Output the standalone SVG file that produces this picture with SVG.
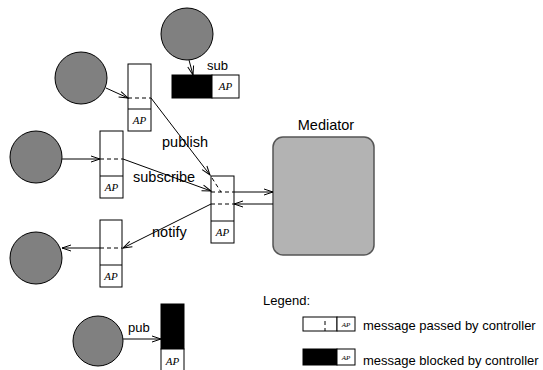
<svg xmlns="http://www.w3.org/2000/svg" width="543" height="370" viewBox="0 0 543 370">
<style>
.node{fill:#808080;stroke:#000;stroke-width:1}
.box{fill:#fff;stroke:#000;stroke-width:1}
.blk{fill:#000;stroke:#000;stroke-width:1}
.ln{stroke:#000;stroke-width:1;fill:none}
.dash{stroke:#000;stroke-width:1;fill:none;stroke-dasharray:4,3}
.lbl{font-family:"Liberation Sans",Arial,sans-serif;font-size:14.5px;fill:#000}
.sm{font-family:"Liberation Sans",Arial,sans-serif;font-size:13px;fill:#000}
.ap{font-family:"Liberation Serif","DejaVu Serif",serif;font-style:italic;font-size:11px;fill:#000;text-anchor:middle}
.aps{font-family:"Liberation Serif","DejaVu Serif",serif;font-style:italic;font-size:7px;fill:#000;text-anchor:middle}
</style>
<defs>
<marker id="arr" markerUnits="userSpaceOnUse" markerWidth="12" markerHeight="8" refX="10" refY="4" orient="auto">
<path d="M1,1 L10,4 L1,7" fill="none" stroke="#000" stroke-width="1"/>
</marker>
</defs>
<rect width="543" height="370" fill="#fff"/>

<g id="client-publish">
<circle class="node" cx="81" cy="78" r="26"/>
</g>
<g id="ctrl-publish">
<rect class="box" x="128" y="64" width="23" height="67"/>
<line class="ln" x1="128" y1="109" x2="151" y2="109"/>
<text class="ap" x="139.5" y="124">AP</text>
</g>

<g id="client-sub">
<circle class="node" cx="187" cy="34" r="26"/>
</g>
<g id="ctrl-sub">
<rect class="blk" x="172" y="75" width="40" height="23"/>
<rect class="box" x="212" y="75" width="27" height="23"/>
<text class="ap" x="225.5" y="90">AP</text>
<text class="sm" x="207" y="70">sub</text>
</g>

<g id="client-subscribe">
<circle class="node" cx="36" cy="157" r="26"/>
</g>
<g id="ctrl-subscribe">
<rect class="box" x="100" y="131" width="23" height="67"/>
<line class="ln" x1="100" y1="176" x2="123" y2="176"/>
<text class="ap" x="111.5" y="191">AP</text>
</g>

<g id="client-notify">
<circle class="node" cx="36" cy="258" r="26"/>
</g>
<g id="ctrl-notify">
<rect class="box" x="100" y="220" width="22" height="67"/>
<line class="ln" x1="100" y1="265" x2="122" y2="265"/>
<text class="ap" x="111" y="280">AP</text>
</g>

<g id="ctrl-mediator">
<rect class="box" x="211" y="176" width="23" height="67"/>
<line class="ln" x1="211" y1="221" x2="234" y2="221"/>
<text class="ap" x="222.5" y="236">AP</text>
</g>

<g id="mediator">
<rect x="273" y="137" width="101" height="118" rx="10" ry="10" fill="#b3b3b3" stroke="#555" stroke-width="1.5"/>
<text class="lbl" x="326" y="130" text-anchor="middle">Mediator</text>
</g>

<g id="client-pub">
<circle class="node" cx="98" cy="341" r="25"/>
</g>
<g id="ctrl-pub">
<rect class="blk" x="161" y="304" width="23" height="45"/>
<rect class="box" x="161" y="349" width="23" height="30"/>
<text class="ap" x="172.5" y="365">AP</text>
<text class="sm" x="128" y="332">pub</text>
</g>

<g id="legend">
<text class="sm" x="263" y="305">Legend:</text>
<rect class="box" x="303" y="317" width="34" height="14"/>
<rect class="box" x="337" y="317" width="18" height="14"/>
<line class="dash" x1="325" y1="321" x2="325" y2="331" stroke-dasharray="3,2"/>
<text class="aps" x="346" y="326.5">AP</text>
<text class="sm" x="363" y="330">message passed by controller</text>
<rect class="blk" x="303" y="349" width="34" height="16"/>
<rect class="box" x="337" y="349" width="18" height="16"/>
<text class="aps" x="346" y="359.5">AP</text>
<text class="sm" x="363" y="365">message blocked by controller</text>
</g>

<g id="connectors">
<line class="ln" x1="106" y1="88" x2="128" y2="98" marker-end="url(#arr)"/>
<line class="dash" x1="128" y1="98" x2="151" y2="98"/>
<line class="ln" x1="151" y1="98" x2="210" y2="175" marker-end="url(#arr)"/>
<text class="lbl" x="162" y="147">publish</text>
<line class="dash" x1="212" y1="178" x2="221" y2="192"/>

<line class="ln" x1="189" y1="60" x2="193" y2="75" marker-end="url(#arr)"/>

<line class="ln" x1="62" y1="159" x2="100" y2="159" marker-end="url(#arr)"/>
<line class="dash" x1="100" y1="159" x2="123" y2="159"/>
<line class="ln" x1="123" y1="159" x2="211" y2="191" marker-end="url(#arr)"/>
<text class="lbl" x="133" y="182">subscribe</text>

<line class="dash" x1="211" y1="192" x2="234" y2="192"/>
<line class="ln" x1="234" y1="192" x2="273" y2="192" marker-end="url(#arr)"/>
<line class="ln" x1="273" y1="204" x2="234" y2="204" marker-end="url(#arr)"/>
<line class="dash" x1="211" y1="204" x2="234" y2="204"/>
<line class="ln" x1="211" y1="204" x2="123" y2="248" marker-end="url(#arr)"/>
<text class="lbl" x="152" y="237">notify</text>
<line class="dash" x1="100" y1="248" x2="122" y2="248"/>
<line class="ln" x1="100" y1="248" x2="62" y2="248" marker-end="url(#arr)"/>

<line class="ln" x1="123" y1="339" x2="161" y2="339" marker-end="url(#arr)"/>
</g>
</svg>
